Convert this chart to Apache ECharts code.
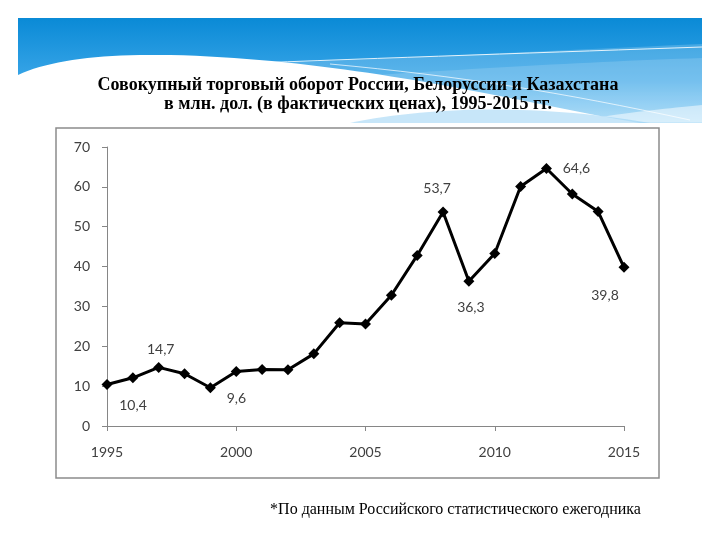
<!DOCTYPE html>
<html><head><meta charset="utf-8">
<script src="https://cdn.jsdelivr.net/npm/echarts@6/dist/echarts.min.js"></script>
<style>html,body{margin:0;padding:0;background:#fff}#c{width:720px;height:540px}</style>
</head><body><div id="c"></div>
<script>
const years = [1995,1996,1997,1998,1999,2000,2001,2002,2003,2004,2005,2006,2007,2008,2009,2010,2011,2012,2013,2014,2015];
const values = [10.4,12.1,14.7,13.1,9.6,13.7,14.2,14.1,18.1,25.9,25.6,32.8,42.8,53.7,36.3,43.3,60.1,64.6,58.2,53.8,39.8];
const labeledYears = [1995,1997,1999,2008,2009,2012,2015];
const yTicks = [0,10,20,30,40,50,60,70];
const xTicks = [1995,2000,2005,2010,2015];
const titleLines = ['Совокупный торговый оборот России, Белоруссии и Казахстана','в млн. дол. (в фактических ценах), 1995-2015 гг.'];
const footnote = '*По данным Российского статистического ежегодника';

const labelStyle = {
  1995:{offset:[26,21]}, 1997:{offset:[2,-18]}, 1999:{offset:[26,11]},
  2008:{offset:[-6,-23]}, 2009:{offset:[2,26]}, 2012:{offset:[30,0]}, 2015:{offset:[-19,28]}
};
const fmt = v => String(v).replace('.', ',');

const data = years.map((y,i)=>{
  const item = {value:[y, values[i]]};
  if (labeledYears.includes(y)) {
    item.label = {show:true, position:'inside', offset:labelStyle[y].offset, formatter: fmt(values[i]),
      fontFamily:'Lato', fontSize:14, color:'#404040'};
  }
  return item;
});

// decorative header: sample cubic bezier chains into polygon points
function bez(p0,p1,p2,p3,n){const pts=[];for(let k=0;k<=n;k++){const t=k/n,u=1-t;
  pts.push([u*u*u*p0[0]+3*u*u*t*p1[0]+3*u*t*t*p2[0]+t*t*t*p3[0], u*u*u*p0[1]+3*u*u*t*p1[1]+3*u*t*t*p2[1]+t*t*t*p3[1]]);}return pts;}
const whiteWave = [].concat(
  bez([18,75],[50,60],[100,54],[170,55],20),
  bez([170,55],[300,58],[420,80],[520,100],30),
  bez([520,100],[580,112],[620,120],[640,123],10),
  [[18,123]]);
const glow1 = [].concat(bez([230,64],[380,60],[520,52],[702,44],30),[[702,122],[230,122]]);
const glow2 = [].concat(bez([300,80],[450,70],[580,62],[702,58],30),[[702,122],[300,122]]);
const glow3 = [].concat(bez([560,123],[630,112],[670,108],[702,105],20),[[702,123]]);
const glow4 = [].concat(bez([350,123],[430,106],[540,104],[650,123],30));

const chart = echarts.init(document.getElementById('c'), null, {renderer:'canvas'});
chart.setOption({
  animation:false,
  backgroundColor:'#ffffff',
  grid:{left:107, right:96, top:147, bottom:114, containLabel:false},
  xAxis:{type:'value', min:xTicks[0], max:xTicks[xTicks.length-1], interval:5,
    axisLine:{show:true, lineStyle:{color:'#868686', width:1}},
    axisTick:{show:true, length:5, lineStyle:{color:'#868686'}},
    splitLine:{show:false},
    axisLabel:{margin:19, fontFamily:'Lato', fontSize:14, color:'#404040', formatter:v=>String(v)}},
  yAxis:{type:'value', min:yTicks[0], max:yTicks[yTicks.length-1], interval:10,
    axisLine:{show:true, lineStyle:{color:'#868686', width:1}},
    axisTick:{show:true, length:5, lineStyle:{color:'#868686'}},
    splitLine:{show:false},
    axisLabel:{margin:17, fontFamily:'Lato', fontSize:14, color:'#404040'}},
  series:[{type:'line', data:data, symbol:'diamond', symbolSize:11,
    lineStyle:{color:'#000', width:3}, itemStyle:{color:'#000'}, label:{show:false}}],
  graphic:[
    {type:'rect', z:-10, shape:{x:18,y:18,width:684,height:105},
      style:{fill:new echarts.graphic.LinearGradient(0,0,0,1,[{offset:0,color:'#0a8ad6'},{offset:0.6,color:'#3aa6e8'},{offset:1,color:'#8fd0f5'}])}},
    {type:'polygon', z:-9, shape:{points:glow1}, style:{fill:'rgba(255,255,255,0.18)'}},
    {type:'polygon', z:-9, shape:{points:glow2}, style:{fill:'rgba(255,255,255,0.15)'}},
    {type:'bezierCurve', z:-8, shape:{x1:230,y1:64,cpx1:380,cpy1:58,cpx2:560,cpy2:52,x2:702,y2:47},
      style:{fill:null, stroke:'rgba(255,255,255,0.85)', lineWidth:1}},
    {type:'bezierCurve', z:-8, shape:{x1:330,y1:64,cpx1:460,cpy1:76,cpx2:560,cpy2:92,x2:690,y2:120},
      style:{fill:null, stroke:'rgba(255,255,255,0.7)', lineWidth:1}},
    {type:'polygon', z:-7, shape:{points:whiteWave}, style:{fill:'#ffffff'}},
    {type:'polygon', z:-7, shape:{points:glow3}, style:{fill:'rgba(255,255,255,0.5)'}},
    {type:'polygon', z:-6, shape:{points:glow4}, style:{fill:'rgba(130,200,242,0.45)'}},
    {type:'text', z:5, style:{x:358, y:85, text:titleLines[0], textAlign:'center', textVerticalAlign:'middle',
      font:'bold 18px "Liberation Serif"', fill:'#000'}},
    {type:'text', z:5, style:{x:358, y:104, text:titleLines[1], textAlign:'center', textVerticalAlign:'middle',
      font:'bold 18px "Liberation Serif"', fill:'#000'}},
    {type:'rect', z:-5, shape:{x:56,y:128,width:603,height:350},
      style:{fill:'#fff', stroke:'#8c8c8c', lineWidth:1.5}},
    {type:'text', style:{x:455.5, y:510, text:footnote, textAlign:'center', textVerticalAlign:'middle',
      font:'16px "Liberation Serif"', fill:'#000'}}
  ]
});
</script></body></html>
